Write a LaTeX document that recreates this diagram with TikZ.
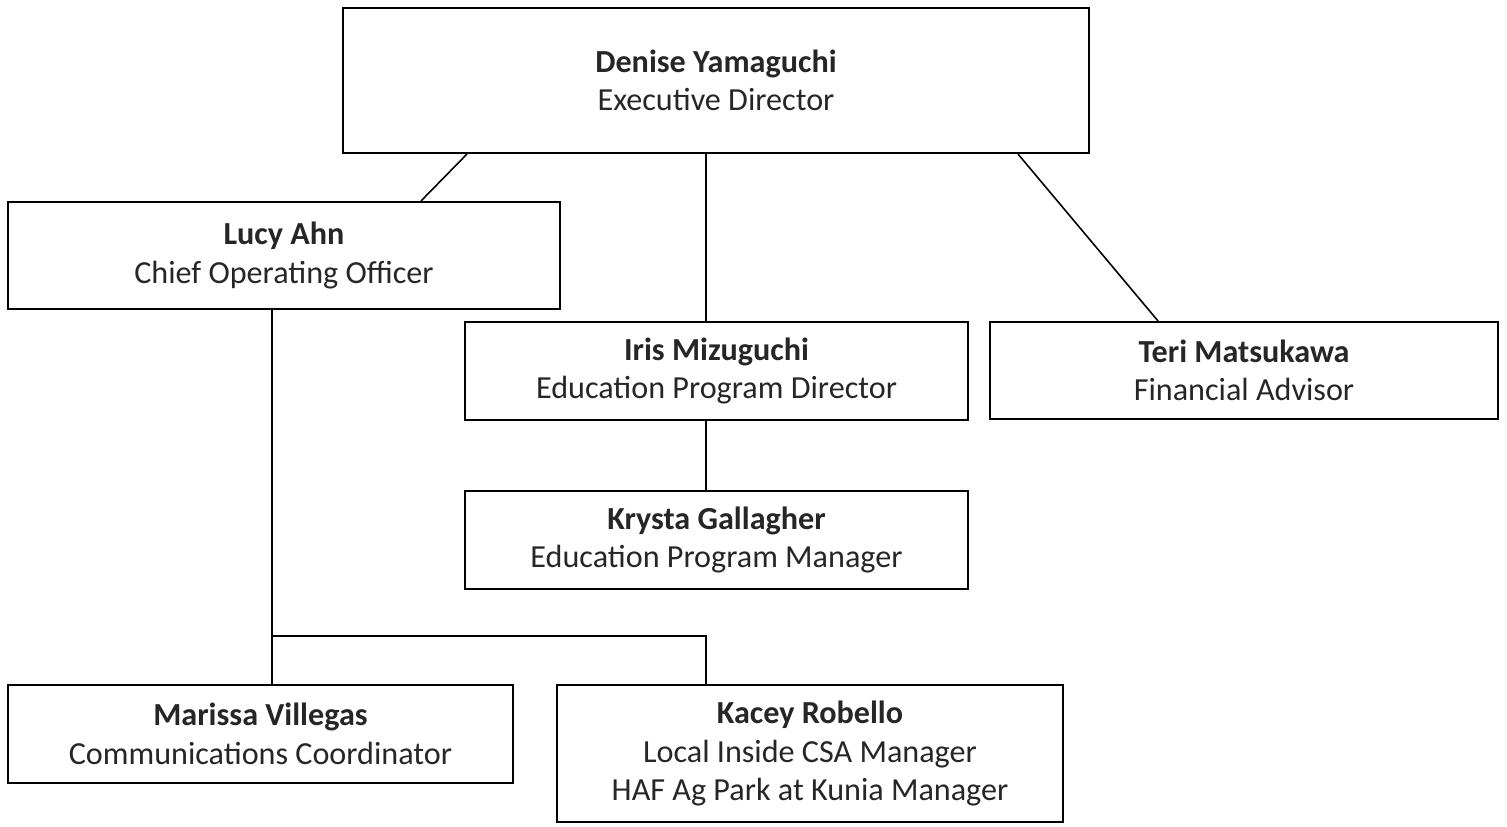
\documentclass[tikz,border=0pt]{standalone}
\usepackage{fontspec}
\setmainfont{Carlito}
\usetikzlibrary{positioning,calc}
\tikzset{
  person/.style={draw=black, line width=1.2pt, rectangle, align=center, inner sep=0pt,
    font=\fontsize{18.3}{22}\selectfont, text=black!85},
  link/.style={draw=black, line width=0.9pt}
}
\newcommand{\who}[2]{\textbf{#1}\\#2}

\begin{document}
\begin{tikzpicture}[x=0.02cm, y=-0.02cm]
  \useasboundingbox (0,0) rectangle (1507,827);

  % Top level
  \node[person, minimum width=14.92cm, minimum height=2.9cm] (denise) at (716,80.5) {\who{Denise Yamaguchi}{Executive Director}};

  % Second level
  \node[person, minimum width=11.04cm, minimum height=2.14cm] (lucy) at (284,255.5) {\who{Lucy Ahn}{Chief Operating Officer}};
  \node[person, minimum width=10.06cm, minimum height=1.96cm] (iris) at (716.5,371) {\who{Iris Mizuguchi}{Education Program Director}};
  \node[person, minimum width=10.16cm, minimum height=1.94cm] (teri) at (1244,370.5) {\who{Teri Matsukawa}{Financial Advisor}};

  % Third level
  \node[person, minimum width=10.06cm, minimum height=1.96cm] (krysta) at (716.5,540) {\who{Krysta Gallagher}{Education Program Manager}};
  \node[person, minimum width=10.1cm, minimum height=1.96cm] (marissa) at (260.5,734) {\who{Marissa Villegas}{Communications Coordinator}};
  \node[person, minimum width=10.12cm, minimum height=2.74cm] (kacey) at (810,753.5) {\who{Kacey Robello}{Local Inside CSA Manager\\HAF Ag Park at Kunia Manager}};

  % Lines from the director
  \draw[link] ($(denise.south)+(-249,0)$) -- ($(lucy.north)+(137,0)$);
  \draw[link] ($(denise.south)+(-10,0)$) -- ($(iris.north)+(-10.5,0)$);
  \draw[link] ($(denise.south)+(302,0)$) -- ($(teri.north)+(-86,0)$);

  % Education branch
  \draw[link] ($(iris.south)+(-10.5,0)$) -- ($(krysta.north)+(-10.5,0)$);

  % Operations branch
  \coordinate (branch) at (272,636);
  \draw[link] ($(lucy.south)+(-12,0)$) -- ($(marissa.north)+(11.5,0)$);
  \draw[link] (branch) -| ($(kacey.north)+(-104,0)$);
\end{tikzpicture}
\end{document}
